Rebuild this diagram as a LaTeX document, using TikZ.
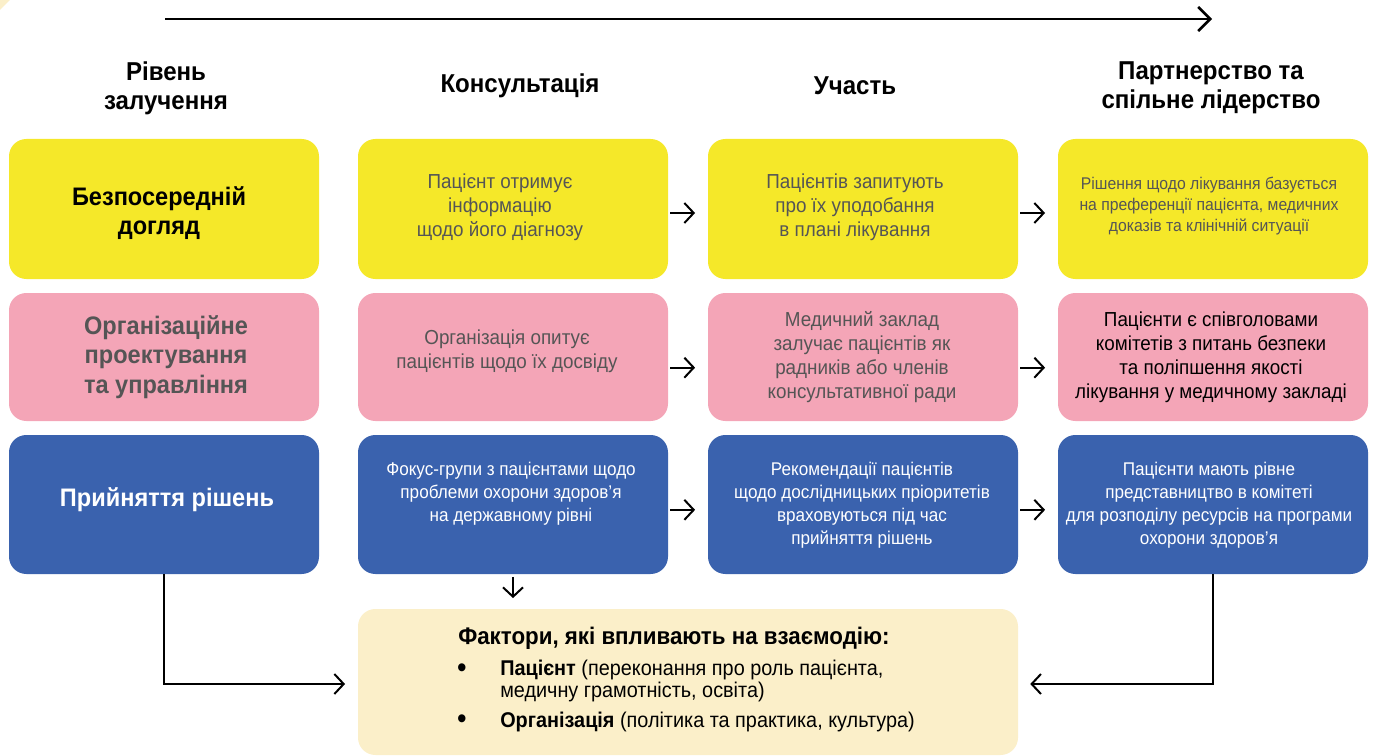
\documentclass[tikz,border=0pt]{standalone}
\usepackage{fontspec}
\setmainfont{Liberation Sans}[FakeStretch=0.93]
\usetikzlibrary{arrows.meta}
\definecolor{cyel}{HTML}{F5E829}
\definecolor{cpink}{HTML}{F4A5B7}
\definecolor{cblue}{HTML}{3A62AE}
\definecolor{ccream}{HTML}{FBEFC9}
\definecolor{cgray}{HTML}{555555}
\begin{document}
\begin{tikzpicture}[x=0.75pt,y=-0.75pt,
  panel/.style={rounded corners=13pt, minimum width=232.5pt, inner sep=0pt, draw=none},
  row1/.style={panel, fill=cyel, minimum height=105pt},
  row2/.style={panel, fill=cpink, minimum height=96pt},
  row3/.style={panel, fill=cblue, minimum height=104.25pt},
  heading/.style={align=center, font=\bfseries\fontsize{19.4}{21.75}\selectfont, text=black},
  body/.style={align=center, font=\fontsize{15.2}{18}\selectfont, text=cgray, inner sep=0pt},
  bodyb/.style={align=center, font=\fontsize{13.8}{17.2}\selectfont, text=white, inner sep=0pt},
  small/.style={align=center, font=\fontsize{12.7}{15.75}\selectfont, text=cgray, inner sep=0pt},
  lead/.style={align=center, font=\bfseries\fontsize{19}{22}\selectfont, inner sep=0pt},
  bullet/.style={inner sep=0pt, font=\fontsize{22}{22}\selectfont},
  arr/.style={draw=black, line width=1.5pt, -{Straight Barb[length=7pt, width=15pt, line width=1.5pt]}},
]
\useasboundingbox (0,0) rectangle (1375,756);
% corner triangle
\fill[ccream] (0,0) -- (10,0) -- (0,10) -- cycle;

% top arrow
\coordinate (ts) at (165,19);
\coordinate (te) at (1212,19);
\draw[line width=1.9pt, -{Straight Barb[length=9pt, width=18pt, line width=1.9pt]}] (ts) -- (te);

% headings
\node[heading] (h1) at (166,88) {Рівень\\залучення};
\node[heading] (h2) at (520,86) {Консультація};
\node[heading] (h3) at (855,86) {Участь};
\node[heading] (h4) at (1211,88) {Партнерство та\\спільне лідерство};

% boxes
\node[row1] (b11) at (164,209) {};
\node[row1] (b12) at (513,209) {};
\node[row1] (b13) at (863,209) {};
\node[row1] (b14) at (1213,209) {};
\node[row2] (b21) at (164,357) {};
\node[row2] (b22) at (513,357) {};
\node[row2] (b23) at (863,357) {};
\node[row2] (b24) at (1213,357) {};
\node[row3] (b31) at (164,504.5) {};
\node[row3] (b32) at (513,504.5) {};
\node[row3] (b33) at (863,504.5) {};
\node[row3] (b34) at (1213,504.5) {};

% box texts
\node[lead, text=black] (t11) at (159,213) {Безпосередній\\догляд};
\node[body] (t12) at (500,207) {Пацієнт отримує\\інформацію\\щодо його діагнозу};
\node[body] (t13) at (855,207) {Пацієнтів запитують\\про їх уподобання\\в плані лікування};
\node[small] (t14) at (1209,206) {Рішення щодо лікування базується\\на преференції пацієнта, медичних\\доказів та клінічній ситуації};

\node[lead, text=cgray] (t21) at (166,357) {Організаційне\\проектування\\та управління};
\node[body] (t22) at (507,351) {Організація опитує\\пацієнтів щодо їх досвіду};
\node[body] (t23) at (862,357) {Медичний заклад\\залучає пацієнтів як\\радників або членів\\консультативної ради};
\node[body, text=black] (t24) at (1211,357) {Пацієнти є співголовами\\комітетів з питань безпеки\\та поліпшення якості\\лікування у медичному закладі};

\node[lead, text=white] (t31) at (167,500) {Прийняття рішень};
\node[bodyb] (t32) at (511,494) {Фокус-групи з пацієнтами щодо\\проблеми охорони здоров'я\\на державному рівні};
\node[bodyb] (t33) at (862,505) {Рекомендації пацієнтів\\щодо дослідницьких пріоритетів\\враховуються під час\\прийняття рішень};
\node[bodyb] (t34) at (1209,505) {Пацієнти мають рівне\\представництво в комітеті\\для розподілу ресурсів на програми\\охорони здоров’я};

% factors box
\node[panel, fill=ccream, minimum width=495pt, minimum height=109.5pt] (fb) at (688,682) {};
\node[anchor=west, inner sep=0pt, font=\bfseries\fontsize{18}{20}\selectfont] (ft) at (458,638) {Фактори, які впливають на взаємодію:};
\node[bullet] (bu1) at (462,671) {•};
\node[anchor=west, inner sep=0pt, align=left, font=\fontsize{16}{16.8}\selectfont] (f1) at (500,681) {\textbf{Пацієнт} (переконання про роль пацієнта,\\медичну грамотність, освіта)};
\node[bullet] (bu2) at (462,722) {•};
\node[anchor=west, inner sep=0pt, font=\fontsize{16}{17}\selectfont] (f2) at (500,722) {\textbf{Організація} (політика та практика, культура)};

% horizontal arrows
\draw[arr, shorten <=1.5pt, shorten >=9.5pt] ([yshift=-3pt]b12.east) -- ([yshift=-3pt]b13.west);
\draw[arr, shorten <=1.5pt, shorten >=9.5pt] ([yshift=-3pt]b13.east) -- ([yshift=-3pt]b14.west);
\draw[arr, shorten <=1.5pt, shorten >=9.5pt] ([yshift=-8pt]b22.east) -- ([yshift=-8pt]b23.west);
\draw[arr, shorten <=1.5pt, shorten >=9.5pt] ([yshift=-8pt]b23.east) -- ([yshift=-8pt]b24.west);
\draw[arr, shorten <=1.5pt, shorten >=9.5pt] ([yshift=-4pt]b32.east) -- ([yshift=-4pt]b33.west);
\draw[arr, shorten <=1.5pt, shorten >=9.5pt] ([yshift=-4pt]b33.east) -- ([yshift=-4pt]b34.west);

% down arrow
\draw[arr, shorten <=2pt, shorten >=8pt] (b32.south) -- (b32.south |- fb.north);
% side connectors
\draw[arr, shorten >=9.5pt] (b31.south) |- ([yshift=-1.5pt]fb.west);
\draw[arr, shorten >=9pt] (b34.south) |- ([yshift=-1.5pt]fb.east);
\end{tikzpicture}
\end{document}
